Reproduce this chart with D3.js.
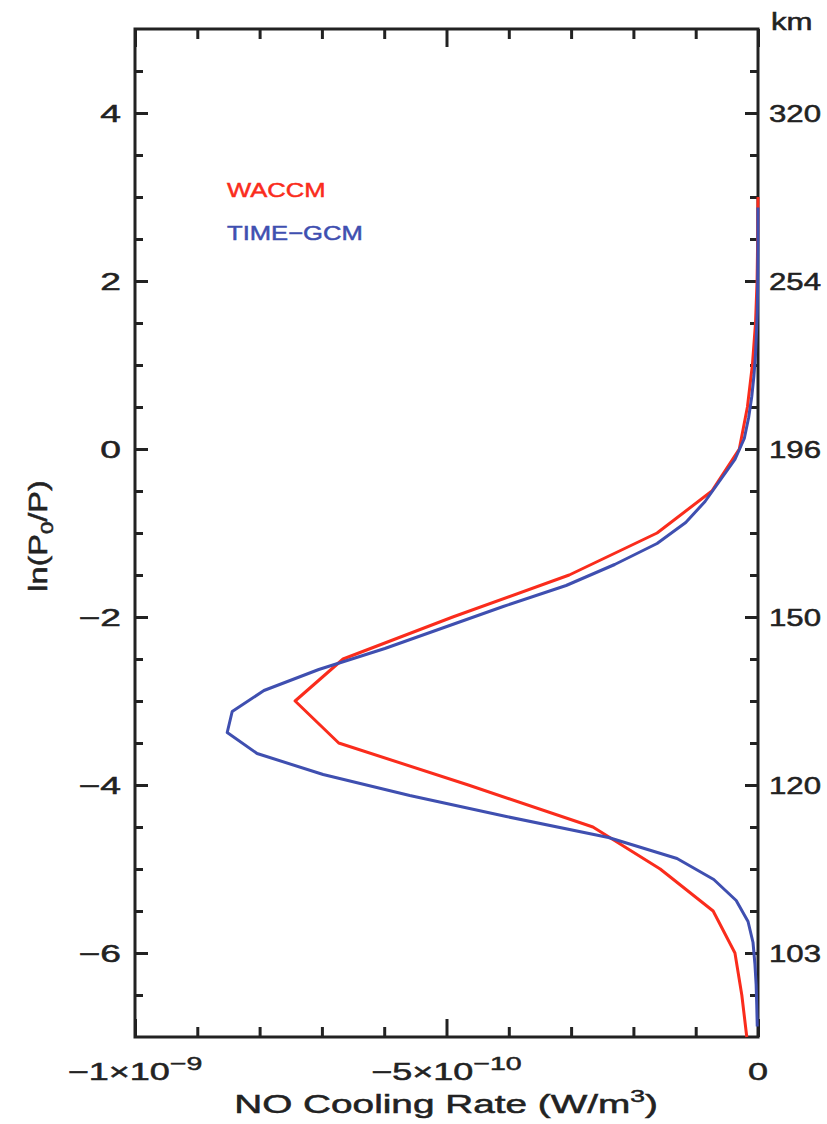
<!DOCTYPE html>
<html>
<head>
<meta charset="utf-8">
<script src="https://cdn.jsdelivr.net/npm/d3@7"></script>
<style>
  body { margin: 0; background: #fff; }
  text { font-family: "Liberation Sans", Arial, sans-serif; fill: #222; }
</style>
</head>
<body>
<svg id="chart" width="827" height="1124"></svg>
<script>
'use strict'

// cooling rate in units of 1e-12 W/m3, level in ln(P0/P)
var waccmLev  = [3, 2.5, 2, 1.5, 1, 0.5, 0, -0.5, -1, -1.5, -2, -2.5, -3, -3.5, -4, -4.5, -5, -5.5, -6, -6.5, -7]
var waccmRate = [0, -0.5, -1.5, -4, -9, -17, -30, -74, -162, -303, -490, -666, -743, -673, -465, -265, -157, -72, -37, -26, -18]

var timeLev  = [2.875, 2.625, 2.375, 2.125, 1.875, 1.625, 1.375, 1.125, 0.875, 0.625, 0.375, 0.125,
                -0.125, -0.375, -0.625, -0.875, -1.125, -1.375, -1.625, -1.875, -2.125, -2.375, -2.625, -2.875,
                -3.125, -3.375, -3.625, -3.875, -4.125, -4.375, -4.625, -4.875, -5.125, -5.375, -5.625, -5.875,
                -6.125, -6.375, -6.625, -6.875]
var timeRate = [-0.05, -0.1, -0.2, -0.4, -0.7, -1.2, -2.5, -4, -6.5, -10, -15, -22,
                -37, -61, -85, -116, -162, -230, -308, -409, -504, -599, -705, -793,
                -844, -852, -804, -698, -559, -404, -240, -130, -71, -35, -16, -8,
                -5, -3, -2, -1.2]

var xMajor = [-1000, -500, 0]
var xMinor = [-900, -800, -700, -600, -400, -300, -200, -100]
var yMajor = [-6, -4, -2, 0, 2, 4]
var yMinor = [-6.5, -5.5, -5, -4.5, -3.5, -3, -2.5, -1.5, -1, -0.5, 0.5, 1, 1.5, 2.5, 3, 3.5, 4.5]
var kmLabels = ['103', '120', '150', '196', '254', '320']

var svg = d3.select("#chart"),
    plot = {left: 135, right: 758, top: 29, bottom: 1037},
    ink = "#222"

var x = d3.scaleLinear().domain([-1000, 0]).range([plot.left, plot.right])
var y = d3.scaleLinear().domain([-7, 5]).range([plot.bottom, plot.top])

// text is stretched sideways like the IDL font
function label(px, py, anchor, size, sx, rot) {
  var g = svg.append("g")
    .attr("transform", "translate(" + px + "," + py + ")" + (rot ? " rotate(" + rot + ")" : "") + " scale(" + sx + ",1)")
  return g.append("text")
    .attr("text-anchor", anchor)
    .style("font-size", size + "px")
    .attr("stroke", ink)
    .attr("stroke-width", 0.5)
}

function ticks(axis, tx, ty, vals, len) {
  var g = svg.append("g")
    .attr("transform", "translate(" + tx + "," + ty + ")")
    .call(axis.tickValues(vals).tickSize(-len).tickFormat(""))
  g.select(".domain").remove()
  g.selectAll("line").attr("stroke", ink).attr("stroke-width", 3)
}

ticks(d3.axisLeft(y), plot.left, 0, yMinor, 8)
ticks(d3.axisLeft(y), plot.left, 0, yMajor, 13)
ticks(d3.axisRight(y), plot.right, 0, yMinor, 8)
ticks(d3.axisRight(y), plot.right, 0, yMajor, 13)
ticks(d3.axisBottom(x), 0, plot.bottom, xMinor, 10)
ticks(d3.axisBottom(x), 0, plot.bottom, xMajor, 18)
ticks(d3.axisTop(x), 0, plot.top, xMinor, 10)
ticks(d3.axisTop(x), 0, plot.top, xMajor, 18)

svg.append("rect")
  .attr("x", plot.left).attr("y", plot.top)
  .attr("width", plot.right - plot.left).attr("height", plot.bottom - plot.top)
  .attr("fill", "none").attr("stroke", ink).attr("stroke-width", 3)

// left tick labels
yMajor.forEach(function(v) {
  label(121, y(v) + 8.5, "end", 24, 1.55).text(v < 0 ? "\u2212" + (-v) : v)
})
// right km labels
yMajor.forEach(function(v, i) {
  label(769, y(v) + 8.5, "start", 24, 1.3).text(kmLabels[i])
})
label(771, 30, "start", 24, 1.3).text("km")

// bottom tick labels
var t1 = label(x(-1000), 1080, "middle", 24, 1.5)
t1.append("tspan").text("\u22121\u00d710")
t1.append("tspan").attr("dy", -10).style("font-size", "19px").text("\u22129")
var t2 = label(x(-500), 1080, "middle", 24, 1.5)
t2.append("tspan").text("\u22125\u00d710")
t2.append("tspan").attr("dy", -10).style("font-size", "19px").text("\u221210")
label(x(0), 1080, "middle", 24, 1.5).text("0")

// axis titles
var xt = label(446, 1113, "middle", 25, 1.55)
xt.append("tspan").text("NO Cooling Rate (W/m")
xt.append("tspan").attr("dy", -11).style("font-size", "17px").text("3")
xt.append("tspan").attr("dy", 11).text(")")

var yt = label(47, 536, "middle", 25, 1.3, -90)
yt.append("tspan").text("ln(P")
yt.append("tspan").attr("dy", 6).style("font-size", "17px").text("0")
yt.append("tspan").attr("dy", -6).text("/P)")

// curves
var line = d3.line().x(d => x(d[0])).y(d => y(d[1]))

var series = [
  {name: "WACCM", color: "#fa2c1c", rate: waccmRate, lev: waccmLev},
  {name: "TIME\u2212GCM", color: "#3f4fb0", rate: timeRate, lev: timeLev}
]

series.forEach(function(s, i) {
  svg.append("path")
    .datum(d3.zip(s.rate, s.lev))
    .attr("d", line)
    .attr("fill", "none")
    .attr("stroke", s.color)
    .attr("stroke-width", 3)
    .attr("stroke-linejoin", "round")

  label(227, 197 + i * 43, "start", 21, 1.22)
    .attr("stroke", s.color)
    .style("fill", s.color)
    .text(s.name)
})
</script>
</body>
</html>
